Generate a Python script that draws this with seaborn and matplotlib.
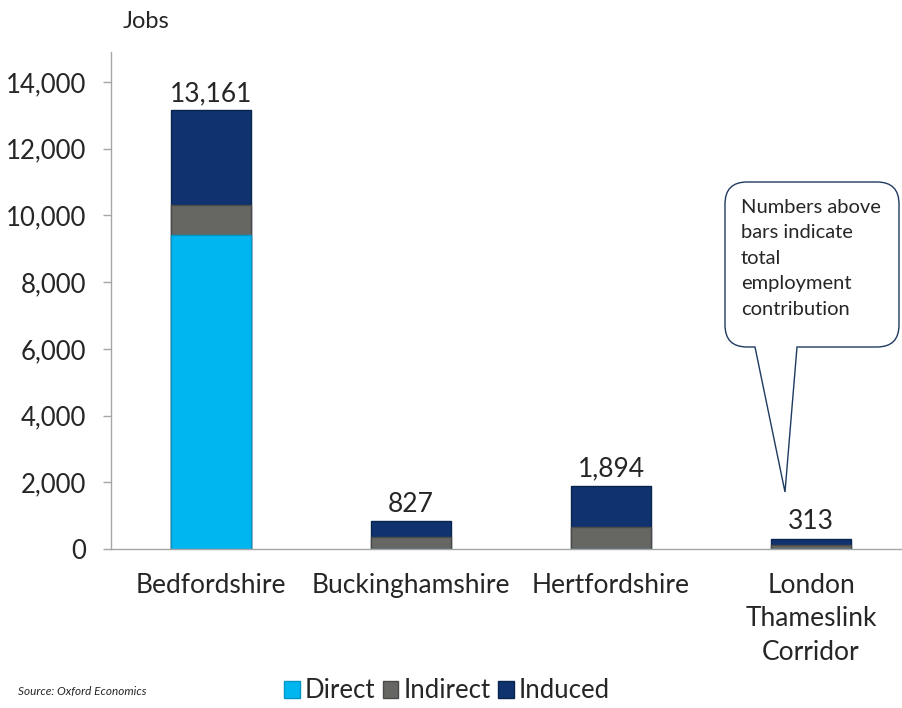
import matplotlib
matplotlib.use('Agg')
import matplotlib.pyplot as plt
from matplotlib.path import Path
from matplotlib.patches import PathPatch, Patch
import seaborn as sns
import numpy as np
import pandas as pd

# data
regions = ['Bedfordshire', 'Buckinghamshire', 'Hertfordshire', 'London\nThameslink\nCorridor']
direct = [9400, 0, 0, 0]
indirect = [920, 360, 660, 120]
totals = [13161, 827, 1894, 313]
induced = [t - d - i for t, d, i in zip(totals, direct, indirect)]
yticks = [0, 2000, 4000, 6000, 8000, 10000, 12000, 14000]

colors = {'Direct': '#00B6F0', 'Indirect': '#666662', 'Induced': '#10336F'}
edges = {'Direct': '#0096C8', 'Indirect': '#4A4A48', 'Induced': '#0A2450'}

sns.set_style('white')
plt.rcParams['font.family'] = ['Lato', 'DejaVu Sans']

df = pd.DataFrame({'region': regions, 'Direct': direct,
                   'Indirect': indirect, 'Induced': induced})
df['d_i'] = df['Direct'] + df['Indirect']
df['total'] = df['d_i'] + df['Induced']

fig = plt.figure(figsize=(9.02, 7.08), dpi=100)
ax = fig.add_axes([111 / 902, 159 / 708, 800 / 902, 497 / 708])

# stacked bars drawn back to front (cumulative heights)
for col, key in [('total', 'Induced'), ('d_i', 'Indirect'), ('Direct', 'Direct')]:
    sns.barplot(data=df, x='region', y=col, color=colors[key], width=0.4,
                edgecolor=edges[key], linewidth=1, saturation=1, ax=ax)

for i, t in enumerate(totals):
    ax.annotate(f'{t:,}', (i, t), xytext=(0, 3), textcoords='offset points',
                ha='center', va='bottom', fontsize=19)

ax.set_xlim(-0.5, 3.5)
ax.set_ylim(0, 14900)
ax.set_yticks(yticks)
ax.set_yticklabels([f'{v:,}' for v in yticks], fontsize=18.5)
ax.set_xlabel('')
ax.set_ylabel('')
ax.tick_params(axis='x', length=0, pad=17, labelsize=19)
for lab in ax.get_xticklabels():
    lab.set_linespacing(1.43)
ax.set_xticks(np.arange(0.5, 3.5, 1), minor=True)
ax.tick_params(axis='x', which='minor', length=6, color='#A6A6A6', width=1)
ax.tick_params(axis='y', length=6, color='#A6A6A6', width=1, pad=12, left=True)
for s in ['top', 'right']:
    ax.spines[s].set_visible(False)
for s in ['left', 'bottom']:
    ax.spines[s].set_color('#A6A6A6')
    ax.spines[s].set_linewidth(1)

fig.text(123 / 902, 1 - 22 / 708, 'Jobs', fontsize=17, ha='left', va='center')
fig.text(18 / 902, 1 - 692 / 708, 'Source: Oxford Economics', fontsize=8.5,
         style='italic', ha='left', va='center')

handles = [Patch(facecolor=colors[k], edgecolor=edges[k], label=k)
           for k in ['Direct', 'Indirect', 'Induced']]
fig.legend(handles=handles, loc='center', bbox_to_anchor=(447 / 902, 1 - 691 / 708),
           ncol=3, frameon=False, fontsize=18.5, handlelength=0.6, handleheight=0.6,
           handletextpad=0.2, columnspacing=0.3, borderpad=0)

# speech-bubble callout (pixel coords of the figure)
H = 708
L, R, T, B, r = 725, 899, 182, 347, 22
pts = [(L + r, T), (R - r, T), (R, T), (R, T + r), (R, B - r), (R, B), (R - r, B),
       (797, B), (785, 492), (755, B), (L + r, B), (L, B), (L, B - r),
       (L, T + r), (L, T), (L + r, T), (L + r, T)]
codes = [Path.MOVETO, Path.LINETO, Path.CURVE3, Path.CURVE3, Path.LINETO,
         Path.CURVE3, Path.CURVE3, Path.LINETO, Path.LINETO, Path.LINETO,
         Path.LINETO, Path.CURVE3, Path.CURVE3, Path.LINETO, Path.CURVE3,
         Path.CURVE3, Path.CLOSEPOLY]
verts = [(x / 902, 1 - y / H) for x, y in pts]
bubble = PathPatch(Path(verts, codes), facecolor='white', edgecolor='#1F3A60',
                   linewidth=1, transform=fig.transFigure)
fig.add_artist(bubble)
fig.text(741 / 902, 1 - 199 / H,
         'Numbers above\nbars indicate\ntotal\nemployment\ncontribution',
         fontsize=14.5, ha='left', va='top', linespacing=1.6)

fig.savefig('out.png', dpi=100)
